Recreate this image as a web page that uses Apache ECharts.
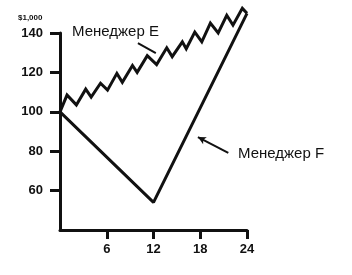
<!DOCTYPE html>
<html>
<head>
<meta charset="utf-8">
<script src="https://cdn.jsdelivr.net/npm/echarts@6/dist/echarts.min.js"></script>
<style>
  html, body { margin: 0; padding: 0; background: #fff; }
  #chart { width: 352px; height: 275px; }
</style>
</head>
<body>
<div id="chart"></div>
<script>
// Manager E vs Manager F, value of $1,000 over 24 months
var xTicks = [6, 12, 18, 24];
var yTicks = [60, 80, 100, 120, 140];

var managerE = [
  [0, 100], [0.9, 108.5], [2.1, 103.5], [3.3, 111.5], [4.0, 107.5],
  [5.2, 114.5], [6.1, 111], [7.3, 119.5], [8.0, 115], [9.3, 123.5],
  [9.9, 120], [11.2, 128.5], [12.4, 124], [13.7, 132.5], [14.4, 128],
  [15.7, 135.5], [16.2, 132], [17.3, 140.5], [18.2, 135.5], [19.3, 145],
  [20.3, 140], [21.4, 149], [22.2, 144], [23.4, 152.5], [24, 150]
];
var managerF = [[0, 100], [12, 54], [24, 150]];

// pointer lines for the two labels, in data units
var pointerE = [[10.0, 134.9], [12.3, 129.8]];
var pointerF = [[21.6, 79.1], [17.7, 87.2]];

var INK = "#111";
var tickFont = { fontFamily: "'Liberation Sans Narrow', 'Liberation Sans', Arial, sans-serif", fontWeight: "bold", fontSize: 13, color: INK };

var chart = echarts.init(document.getElementById("chart"), null, { renderer: "canvas" });

chart.setOption({
  animation: false,
  backgroundColor: "#fff",
  grid: { left: 60, right: 105, top: 33, bottom: 45 },
  xAxis: {
    type: "value",
    min: 0,
    max: 24,
    interval: 6,
    splitLine: { show: false },
    axisLine: { lineStyle: { color: INK, width: 3 } },
    axisTick: { customValues: xTicks, length: 9, lineStyle: { color: INK, width: 3 } },
    axisLabel: Object.assign({ customValues: xTicks, margin: 13 }, tickFont)
  },
  yAxis: {
    type: "value",
    min: 40,
    max: 140,
    interval: 20,
    splitLine: { show: false },
    axisLine: { show: true, lineStyle: { color: INK, width: 3 } },
    axisTick: { show: true, customValues: yTicks, length: 10, lineStyle: { color: INK, width: 3 } },
    axisLabel: Object.assign({ customValues: yTicks, margin: 17 }, tickFont)
  },
  graphic: [
    { type: "text", left: 18, top: 14,
      style: { text: "$1,000", fontSize: 8, fontWeight: "bold", fontFamily: "'Liberation Sans', Arial, sans-serif", fill: INK } },
    { type: "text", left: 72, top: 24,
      style: { text: "Менеджер E", fontSize: 15, fontFamily: "'Liberation Sans', Arial, sans-serif", fill: INK } },
    { type: "text", left: 238, top: 146,
      style: { text: "Менеджер F", fontSize: 15, fontFamily: "'Liberation Sans', Arial, sans-serif", fill: INK } }
  ],
  series: [
    {
      name: "Менеджер E",
      type: "line",
      data: managerE,
      clip: false,
      symbol: "none",
      lineStyle: { color: INK, width: 3, join: "miter" },
      markLine: {
        silent: true,
        symbol: ["none", "none"],
        label: { show: false },
        lineStyle: { color: INK, width: 2, type: "solid" },
        data: [[{ coord: pointerE[0] }, { coord: pointerE[1] }]]
      }
    },
    {
      name: "Менеджер F",
      type: "line",
      data: managerF,
      clip: false,
      symbol: "none",
      lineStyle: { color: INK, width: 3 },
      markLine: {
        silent: true,
        symbol: ["none", "arrow"],
        symbolSize: [6, 8],
        label: { show: false },
        lineStyle: { color: INK, width: 2, type: "solid" },
        data: [[{ coord: pointerF[0] }, { coord: pointerF[1] }]]
      }
    }
  ]
});
</script>
</body>
</html>
